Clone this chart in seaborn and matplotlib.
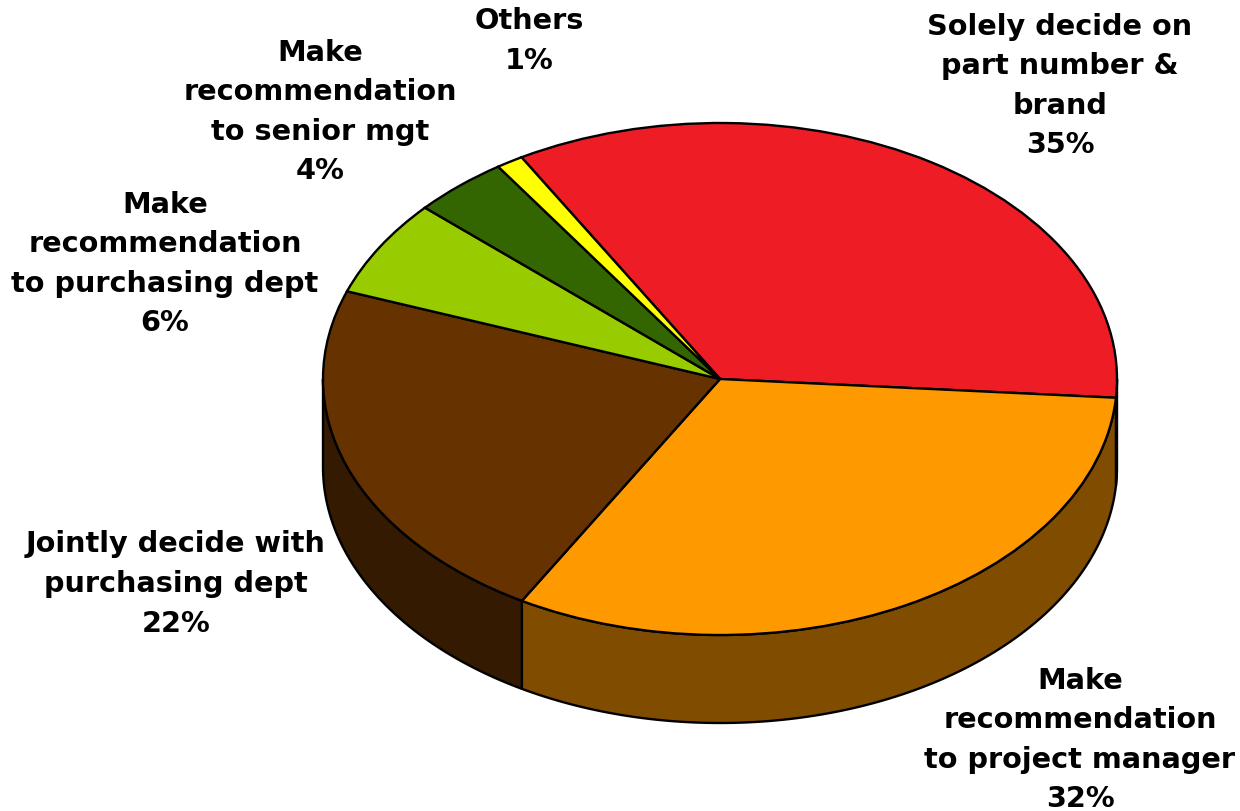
import numpy as np
import matplotlib
matplotlib.use("Agg")
import matplotlib.pyplot as plt
import seaborn as sns

# values, labels keep the printed percentages
categories = ["Solely decide on\npart number &\nbrand", "Make\nrecommendation\nto project manager",
              "Jointly decide with\npurchasing dept", "Make\nrecommendation\nto purchasing dept",
              "Make\nrecommendation\nto senior mgt", "Others"]
values = [34.5, 32.15, 22.25, 6.1, 3.9, 1.1]
printed = ["35%", "32%", "22%", "6%", "4%", "1%"]
colors = ["#EE1C25", "#FF9900", "#663300", "#99CC00", "#336600", "#FFFF00"]
label_xy = [(1060, 86), (1080, 740), (176, 584), (165, 264), (320, 112), (529, 41)]

W, H = 1240, 812
CX, CY, RX, RY, DEPTH = 720, 380, 397, 256, 88
START = 120

sns.set_theme(style="white")
plt.rcParams['font.family'] = ['DejaVu Sans']

fig = plt.figure(figsize=(W / 100, H / 100), dpi=100)
ax = fig.add_axes([0, 0, 1, 1])

# top face, squashed into an ellipse by the axes limits
wedges, _ = ax.pie(values, colors=colors, startangle=START, counterclock=False, radius=1,
                   wedgeprops={"edgecolor": "black", "linewidth": 1.7, "zorder": 3})
ax.set_aspect('auto')
ax.set_xlim(-CX / RX, (W - CX) / RX)
ax.set_ylim((CY - H) / RY, CY / RY)

# side wall, only the part of each slice on the front of the ellipse
depth = DEPTH / RY
edges = START - np.cumsum([0] + values) * 3.6
for i, col in enumerate(colors):
    hi, lo = edges[i], edges[i + 1]
    for a, b in [(hi, lo), (hi + 360, lo + 360), (hi - 360, lo - 360)]:
        a2, b2 = min(a, 0), max(b, -180)
        if a2 <= b2:
            continue
        t = np.radians(np.linspace(a2, b2, 120))
        x, y = np.cos(t), np.sin(t)
        wall = np.array(matplotlib.colors.to_rgb(col)) * 0.5
        ax.fill(np.r_[x, x[::-1]], np.r_[y, y[::-1] - depth], facecolor=wall,
                edgecolor="black", linewidth=1.7, zorder=2, joinstyle="round")

for name, pct, (px, py) in zip(categories, printed, label_xy):
    fig.text(px / W, 1 - py / H, name + "\n" + pct, ha="center", va="center", fontsize=20.7,
             fontweight="bold", color="black", linespacing=1.53)

fig.savefig("out.png", dpi=100)
